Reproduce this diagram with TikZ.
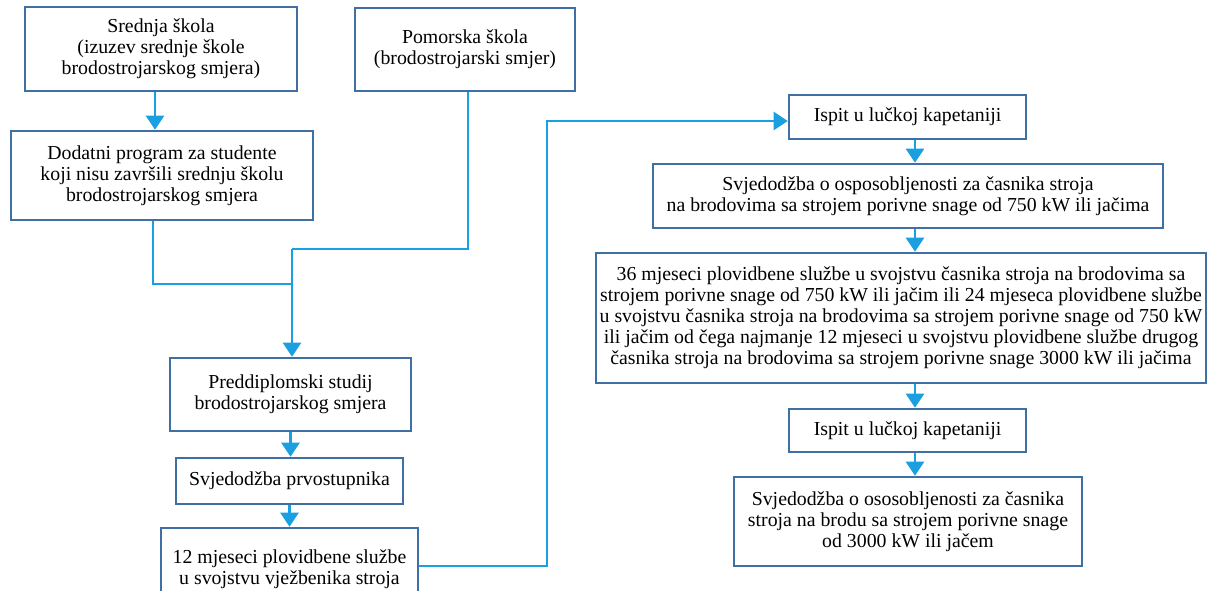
\documentclass[tikz,border=0pt]{standalone}
\usepackage{fontspec}
\setmainfont{Liberation Serif}
\usetikzlibrary{arrows.meta,calc}
\definecolor{boxblue}{HTML}{3F6FA3}
\definecolor{linkblue}{HTML}{1A9FE0}
\begin{document}
\begin{tikzpicture}[x=1pt,y=-1pt,
  fbox/.style={draw=boxblue,line width=2.6pt,fill=white,align=center,inner sep=0pt,
    font=\fontsize{19.8}{21}\selectfont},
  link/.style={draw=linkblue,line width=2.6pt},
  arr/.style={link,-{Triangle[width=18pt,length=14pt]}}]
\useasboundingbox (0,0) rectangle (1216,591);
\clip (0,0) rectangle (1216,591);
\fill[white] (0,0) rectangle (1216,591);

% left column
\node[fbox,minimum width=272pt,minimum height=84pt] (A) at (161,49)
  {Srednja škola\\(izuzev srednje škole\\brodostrojarskog smjera)};
\node[fbox,minimum width=220pt,minimum height=83pt] (B) at (465,49.5)
  {Pomorska škola\\(brodostrojarski smjer)};
\node[fbox,minimum width=302pt,minimum height=89pt] (C) at (162,175.5)
  {Dodatni program za studente\\koji nisu završili srednju školu\\brodostrojarskog smjera};
\node[fbox,minimum width=241pt,minimum height=73pt] (D) at (290.5,394.5)
  {Preddiplomski studij\\brodostrojarskog smjera};
\node[fbox,minimum width=227pt,minimum height=46pt] (E) at (289.5,481)
  {Svjedodžba prvostupnika};
\node[fbox,minimum width=257pt,minimum height=82pt] (F) at (289.5,569)
  {12 mjeseci plovidbene službe\\u svojstvu vježbenika stroja};

% right column
\node[fbox,minimum width=237pt,minimum height=44pt] (G) at (907.5,117)
  {Ispit u lučkoj kapetaniji};
\node[fbox,minimum width=510pt,minimum height=64pt] (H) at (908,196)
  {Svjedodžba o osposobljenosti za časnika stroja\\na brodovima sa strojem porivne snage od 750 kW ili jačima};
\node[fbox,minimum width=610pt,minimum height=130pt] (I) at (901,318)
  {36 mjeseci plovidbene službe u svojstvu časnika stroja na brodovima sa\\
   strojem porivne snage od 750 kW ili jačim ili 24 mjeseca plovidbene službe\\
   u svojstvu časnika stroja na brodovima sa strojem porivne snage od 750 kW\\
   ili jačim od čega najmanje 12 mjeseci u svojstvu plovidbene službe drugog\\
   časnika stroja na brodovima sa strojem porivne snage 3000 kW ili jačima};
\node[fbox,minimum width=237pt,minimum height=43pt] (J) at (907.5,430.5)
  {Ispit u lučkoj kapetaniji};
\node[fbox,minimum width=348pt,minimum height=89pt] (K) at (908,521.5)
  {Svjedodžba o ososobljenosti za časnika\\stroja na brodu sa strojem porivne snage\\od 3000 kW ili jačem};

% helper coordinates
\coordinate (j1) at (292,284);
\coordinate (j2) at (292,249);
\coordinate (k) at (547,0);
\coordinate (rx) at (915,0);
\coordinate (fout) at ([yshift=3pt]F.east);
\coordinate (gin) at ([yshift=-4pt]G.west);

% connectors
\draw[arr] ([xshift=-6pt]A.south) -- ([xshift=-6pt]A.south |- C.north);
\draw[link] ([xshift=-9pt]C.south) |- (j1);
\draw[link] ([xshift=3pt]B.south) |- (j2);
\draw[arr] (j2) -- (j2 |- D.north);
\draw[arr] (D.south) -- (D.south |- E.north);
\draw[arr] (E.south) -- (E.south |- F.north);
\draw[arr] (fout) -- (fout -| k) -- (k |- gin) -- (gin);
\draw[arr] (G.south -| rx) -- (H.north -| rx);
\draw[arr] (H.south -| rx) -- (I.north -| rx);
\draw[arr] (I.south -| rx) -- (J.north -| rx);
\draw[arr] (J.south -| rx) -- (K.north -| rx);
\end{tikzpicture}
\end{document}
